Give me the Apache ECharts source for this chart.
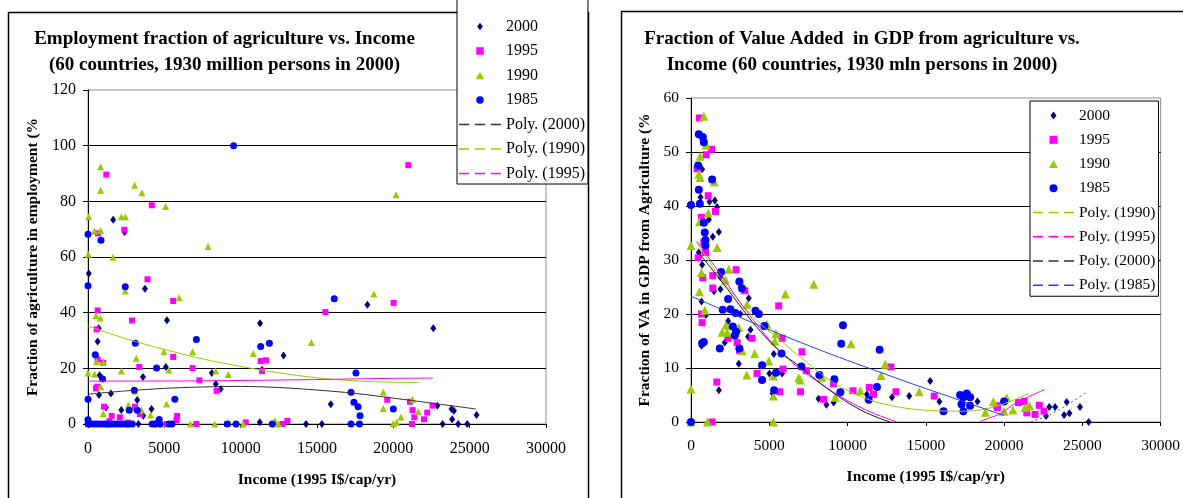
<!DOCTYPE html>
<html>
<head>
<meta charset="utf-8">
<script src="https://cdn.jsdelivr.net/npm/echarts@6/dist/echarts.min.js"></script>
<style>
  html, body { margin: 0; padding: 0; background: #fff; }
  #chart { width: 1183px; height: 498px; }
</style>
</head>
<body>
<div id="chart"></div>
<script>
// ---- Employment share of agriculture vs income (left panel), [income, %] ----
const emp2000 = [[1650,73.4],[2400,69.0],[50,54.1],[3730,48.6],[5170,37.3],[700,34.4],[632,29.6],[5100,20.5],[763,17.5],[916,16.4],[3600,16.9],[8110,18.3],[8370,14.4],[8690,12.6],[720,10.4],[1504,11.0],[3226,8.6],[1177,5.9],[2180,5.0],[4160,5.4],[3620,3.0],[5800,2.0],[11270,36.2],[12810,24.6],[11400,19.5],[15900,7.1],[11250,0.6],[14280,0],[15320,0],[18300,42.8],[22620,34.4],[22880,6.6],[23810,5.4],[23970,4.8],[23850,1.7],[25450,3.2],[23230,0],[24250,0],[24840,0],[1300,0],[2600,0],[3300,0],[4400,0]];
const emp1995 = [[20980,93.0],[1200,89.6],[4180,78.6],[2380,69.8],[650,68.5],[3900,52.0],[5580,44.2],[632,40.8],[2880,37.2],[567,34.0],[5580,24.1],[632,23.2],[1000,22.0],[3360,20.5],[6850,20.1],[7300,15.7],[8430,11.9],[523,12.8],[610,13.4],[1046,6.2],[3075,6.2],[3400,3.6],[1550,2.9],[2090,2.4],[5840,2.9],[5800,1.4],[5145,0],[7100,0],[15550,40.2],[11310,22.6],[11660,22.9],[11400,19.0],[9125,0],[10330,0.6],[12730,0],[13060,1.1],[20020,43.5],[19600,8.7],[21090,8.0],[21260,5.0],[21370,2.4],[22220,4.1],[22570,6.6],[22010,1.7],[21220,0],[1800,0],[1400,1.0],[2600,0.5]];
const emp1990 = [[20180,82.4],[826,92.4],[826,84.0],[3055,85.8],[3530,83.1],[5080,78.1],[50,74.5],[2180,74.5],[2450,74.5],[425,69.3],[826,69.5],[7860,63.8],[22,61.0],[1635,59.9],[2440,47.8],[5970,45.4],[523,39.0],[807,38.1],[4970,26.0],[6850,26.0],[567,22.5],[1000,22.2],[3160,23.6],[5300,19.4],[0,18.3],[436,18.0],[2180,19.0],[8370,19.0],[828,13.4],[3075,11.9],[5145,7.2],[2640,6.8],[3510,5.0],[1000,3.8],[4100,3.2],[4820,0],[6700,0],[8300,0],[18730,46.7],[14630,29.3],[10830,25.3],[9190,17.8],[10170,0],[12250,1.2],[12470,0],[19340,11.5],[19340,5.6],[21260,8.9],[21630,4.4],[20500,2.5],[20000,0.2],[20220,0.6]];
const emp1985 = [[9540,100],[0,68.2],[850,66.0],[0,49.7],[2440,49.3],[7100,30.4],[3100,29.0],[480,24.9],[4490,20.1],[960,16.2],[3030,12.1],[0,8.9],[5690,8.9],[2700,4.9],[3226,4.9],[4665,1.6],[0,1.5],[0,0],[200,0],[436,0],[650,0],[870,0],[1100,0],[1300,0],[1500,0],[1700,0],[1900,0],[2100,0],[2300,0],[2500,0],[2700,0],[2900,0],[4200,0],[4400,0],[4700,0],[5300,0],[5500,0],[16130,45.0],[11310,27.8],[11880,29.0],[17550,18.3],[17230,11.4],[17420,7.8],[17690,6.2],[17820,3.0],[9125,0],[9700,0],[12070,0],[17230,0],[17780,0],[20000,5.4]];

// polynomial trend lines of the left panel, sampled along the curve
const empFit2000 = [[0,10.7],[2500,11.9],[5000,12.8],[7500,13.3],[10000,13.5],[12500,13.1],[15000,12.2],[17500,11.0],[20000,9.3],[22500,7.5],[25400,5.4]];
const empFit1990 = [[0,35.2],[2500,30.6],[5000,26.8],[7500,23.4],[10000,20.7],[12500,18.4],[15000,16.6],[17500,15.5],[20000,15.0],[21700,14.9]];
const empFit1995 = [[0,15.4],[7000,15.5],[14000,15.9],[20000,16.4],[22600,16.5]];

// ---- Value added share of agriculture in GDP vs income (right panel) ----
const va2000 = [[710,46.8],[605,41.6],[1180,40.8],[1520,41.0],[1670,39.8],[1140,37.5],[1780,35.2],[1390,34.3],[500,31.4],[710,29.1],[1880,26.8],[1880,24.6],[1470,24.2],[3690,22.9],[670,22.3],[950,19.8],[3160,20.0],[2370,18.7],[3800,17.1],[3650,15.8],[2160,14.7],[670,14.1],[3050,10.8],[5290,12.6],[5010,9.0],[5820,9.0],[1780,5.9],[5220,5.3],[8150,4.3],[8650,3.2],[9110,3.6],[11240,5.1],[12840,4.6],[13940,4.8],[15280,7.6],[15870,3.8],[18300,3.8],[22680,1.1],[22890,2.8],[23260,2.8],[24000,3.7],[23830,1.3],[24170,1.6],[24850,2.8],[25400,0]];
const va1995 = [[540,56.3],[1310,50.5],[970,49.5],[390,46.9],[1100,41.9],[1560,39.0],[670,37.9],[820,33.3],[925,31.4],[460,30.4],[2880,28.2],[755,26.7],[1390,27.1],[1390,24.8],[3440,24.3],[5600,21.5],[670,20.0],[710,18.4],[2370,15.5],[2950,14.7],[3100,13.2],[3900,15.5],[5820,15.5],[4220,9.0],[5880,9.8],[1650,7.4],[5670,5.6],[1350,0],[7090,13.0],[6990,5.6],[7370,9.5],[8470,4.2],[9110,7.1],[10350,5.8],[11390,6.4],[11660,5.1],[12770,10.2],[13090,5.6],[15540,4.8],[19540,3.0],[19570,2.7],[20920,3.6],[21280,3.8],[21450,1.7],[21980,1.4],[22250,3.1],[22550,2.0]];
const va1990 = [[820,56.6],[970,51.3],[585,49.2],[500,45.9],[585,45.3],[1480,44.5],[1100,38.7],[540,37.1],[0,32.7],[1670,32.3],[2410,28.3],[670,27.7],[2200,26.3],[540,24.1],[3220,25.7],[3580,21.8],[6030,23.7],[880,20.7],[2240,17.9],[3050,17.5],[1990,16.6],[2310,16.6],[4860,18.1],[5430,16.4],[5350,15.0],[3270,13.2],[4070,12.7],[4970,11.3],[3560,8.7],[5260,8.5],[5270,4.8],[0,6.1],[0,0],[1050,0],[5270,0],[6880,8.2],[7840,25.5],[10220,14.5],[12410,10.7],[12140,8.6],[6980,7.8],[8370,8.3],[9220,4.6],[10810,5.8],[14580,5.6],[18810,1.8],[19320,3.8],[20170,4.5],[20000,2.0],[20560,2.2],[21340,2.7],[21620,3.0]];
const va1985 = [[500,53.3],[755,52.8],[820,51.8],[460,47.5],[1350,44.9],[500,43.0],[0,40.2],[565,40.4],[820,36.9],[880,35.1],[925,33.7],[925,32.7],[1920,27.8],[3090,26.0],[3260,24.7],[2370,22.8],[2030,20.8],[2520,20.9],[2840,20.2],[4120,20.6],[4330,20.0],[2670,17.7],[2880,16.7],[2800,16.0],[4690,17.8],[1840,13.6],[710,14.6],[820,14.8],[3090,13.6],[5780,12.7],[4540,10.5],[4540,7.8],[5430,9.1],[5310,5.9],[0,0],[7050,10.3],[9710,17.9],[9600,14.5],[12050,13.4],[8200,8.7],[9160,7.9],[9540,5.5],[11350,4.1],[11880,6.5],[16130,2.0],[17190,5.0],[17620,5.3],[17830,4.6],[17400,4.6],[17280,3.3],[17400,2.0],[17830,3.0],[20000,3.8]];

// trend lines of the right panel (parts below zero are not drawn)
const vaFit1990 = [[300,33.6],[1800,27.0],[3900,19.7],[6000,14.4],[7000,12.0],[9100,7.3],[11200,4.3],[13400,2.7],[15500,2.1],[17600,2.0],[19100,2.6],[20300,3.7],[21600,5.3]];
const vaFit1995a = [[400,33.4],[1800,27.7],[3900,19.2],[6000,12.2],[9100,5.5],[11200,2.2],[13150,0]];
const vaFit1995b = [[18400,0],[19100,0.8],[19750,1.5],[20800,3.6],[22600,6.0]];
const vaFit2000a = [[400,31.7],[1800,26.6],[2800,22.8],[3900,18.6],[5000,15.0],[6000,12.3],[7000,10.2],[8300,7.1],[9800,4.0],[11200,1.7],[12700,0]];
const vaFit2000b = [[21700,0],[22800,1.2],[24000,3.1],[25300,5.6]];
const vaFit1985 = [[0,23.3],[2000,20.8],[4000,18.3],[6000,15.9],[8000,13.6],[10000,11.4],[12000,9.3],[14000,7.2],[16000,5.2],[18000,3.2],[20000,1.2]];

const xTickStep = 5000;
const yearNames = ['2000', '1995', '1990', '1985'];

const SERIF = '"Liberation Serif", "Times New Roman", serif';
const C2000 = '#000080', C1995 = '#FF00FF', C1990 = '#99CC00', C1985 = '#0000FF';

// legend glyphs as paths so that they keep their proportions inside a wide legend slot
const ICON = {
  '2000': 'path://M0,-4L3,0L0,4L-3,0Z',
  '1995': 'path://M0,0L6,0L6,6L0,6Z',
  '1990': 'path://M0,-3.5L4,3.5L-4,3.5Z',
  '1985': 'path://M-3.5,0A3.5,3.5,0,1,0,3.5,0A3.5,3.5,0,1,0,-3.5,0Z',
  dash: 'path://M0,0L9,0L9,1.4L0,1.4ZM14,0L23,0L23,1.4L14,1.4ZM28,0L37,0L37,1.4L28,1.4Z'
};

const chart = echarts.init(document.getElementById('chart'), null, { renderer: 'canvas' });

function xAxisFor(gridIndex, fontSize, gap, margin) {
  return {
    gridIndex, type: 'value', min: 0, max: 30000, interval: xTickStep,
    name: 'Income (1995 I$/cap/yr)', nameLocation: 'middle', nameGap: gap,
    nameTextStyle: { fontFamily: SERIF, fontWeight: 'bold', fontSize: 15.5, color: '#000' },
    axisLine: { show: true, onZero: false, lineStyle: { color: '#000', width: 1 } },
    axisTick: { show: true, length: 4, lineStyle: { color: '#000' } },
    axisLabel: { margin, fontFamily: SERIF, fontSize, color: '#000', formatter: v => String(v) },
    splitLine: { show: false }
  };
}
function yAxisFor(gridIndex, max, step, name, fontSize, gap) {
  return {
    gridIndex, type: 'value', min: 0, max, interval: step,
    name, nameLocation: 'middle', nameGap: gap, nameRotate: 90,
    nameTextStyle: { fontFamily: SERIF, fontWeight: 'bold', fontSize: 15.5, color: '#000' },
    axisLine: { show: true, onZero: false, lineStyle: { color: '#000', width: 1 } },
    axisTick: { show: true, length: 5, lineStyle: { color: '#000' } },
    axisLabel: { margin: 12, fontFamily: SERIF, fontSize, color: '#000', formatter: v => String(v) },
    splitLine: { show: true, showMinLine: false, showMaxLine: false, lineStyle: { color: '#000', width: 1 } }
  };
}

function scatter(name, data, idx, symbol, size, color) {
  return {
    type: 'scatter', name, data, xAxisIndex: idx, yAxisIndex: idx,
    symbol, symbolSize: size, itemStyle: { color, opacity: 1 }, z: 3
  };
}
function fit(name, data, idx, color, dotted) {
  return {
    type: 'line', name, data, xAxisIndex: idx, yAxisIndex: idx,
    smooth: 0.35, symbol: 'none', showSymbol: false, clip: true,
    itemStyle: { color },
    lineStyle: { color, width: 1, type: dotted ? [2, 3] : 'solid' }, z: 4
  };
}

function legendItems(names) {
  return names.map(n => ({ name: n, icon: ICON[n] || ICON.dash }));
}

const legendBase = {
  orient: 'vertical', selectedMode: false, backgroundColor: '#fff',
  borderColor: '#000', borderWidth: 1, borderRadius: 0, z: 20, symbolKeepAspect: true
};

const option = {
  animation: false,
  backgroundColor: '#fff',
  grid: [
    { left: 88, top: 90, width: 458, height: 334, show: true, borderColor: '#8c8c8c', borderWidth: 1, containLabel: false },
    { left: 691, top: 98, width: 470, height: 324, show: true, borderColor: '#8c8c8c', borderWidth: 1, containLabel: false }
  ],
  xAxis: [xAxisFor(0, 16, 48, 17), xAxisFor(1, 15.5, 47, 16)],
  yAxis: [
    yAxisFor(0, 120, 20, 'Fraction of agriculture in employment (%', 16, 47),
    yAxisFor(1, 60, 10, 'Fraction of VA in GDP from Agriculture (%', 15.5, 38)
  ],
  legend: [
    Object.assign({}, legendBase, {
      left: 457, top: -1, padding: [19, 3, 2, 2],
      itemWidth: 42, itemHeight: 7.5, itemGap: 7.5,
      textStyle: { fontFamily: SERIF, fontSize: 16, color: '#000', lineHeight: 17 },
      data: legendItems(yearNames.concat(['Poly. (2000)', 'Poly. (1990)', 'Poly. (1995)']))
    }),
    Object.assign({}, legendBase, {
      left: 1030, top: 101, padding: [6, 3, 2.5, 3],
      itemWidth: 41, itemHeight: 8, itemGap: 7.25,
      textStyle: { fontFamily: SERIF, fontSize: 15.5, color: '#000', lineHeight: 17 },
      data: legendItems(yearNames.concat(['Poly. (1990)', 'Poly. (1995)', 'Poly. (2000)', 'Poly. (1985)']))
    })
  ],
  series: [
    scatter('2000', emp2000, 0, 'diamond', [6, 8], C2000),
    scatter('1995', emp1995, 0, 'rect', 6, C1995),
    scatter('1990', emp1990, 0, 'triangle', 7, C1990),
    scatter('1985', emp1985, 0, 'circle', 7, C1985),
    fit('Poly. (2000)', empFit2000, 0, '#333333'),
    fit('Poly. (1990)', empFit1990, 0, C1990),
    fit('Poly. (1995)', empFit1995, 0, C1995),

    scatter('2000', va2000, 1, 'diamond', [6, 8], C2000),
    scatter('1995', va1995, 1, 'rect', 7, C1995),
    scatter('1990', va1990, 1, 'triangle', 9, C1990),
    scatter('1985', va1985, 1, 'circle', 8, C1985),
    fit('Poly. (1990)', vaFit1990, 1, C1990),
    fit('Poly. (1995)', vaFit1995a, 1, C1995),
    fit('Poly. (1995)', vaFit1995b, 1, C1995),
    fit('Poly. (2000)', vaFit2000a, 1, '#1a1a1a'),
    fit('Poly. (2000)', vaFit2000b, 1, '#555555', true),
    fit('Poly. (1985)', vaFit1985, 1, '#2040ff')
  ],
  graphic: [
    // panel frames
    { type: 'rect', silent: true, z: -10, shape: { x: 8.5, y: 12.5, width: 580, height: 520 },
      style: { fill: '#fff', stroke: '#000', lineWidth: 1.5 } },
    { type: 'rect', silent: true, z: -10, shape: { x: 621.5, y: 11.5, width: 600, height: 520 },
      style: { fill: '#fff', stroke: '#000', lineWidth: 1.5 } },
    // panel titles
    { type: 'text', x: 224.5, y: 39, silent: true, z: 5,
      style: { text: 'Employment fraction of agriculture vs. Income', font: 'bold 19px ' + SERIF, fill: '#000',
               textAlign: 'center', textVerticalAlign: 'middle', align: 'center', verticalAlign: 'middle' } },
    { type: 'text', x: 224.5, y: 65, silent: true, z: 5,
      style: { text: '(60 countries, 1930 million persons in 2000)', font: 'bold 19px ' + SERIF, fill: '#000',
               textAlign: 'center', textVerticalAlign: 'middle', align: 'center', verticalAlign: 'middle' } },
    { type: 'text', x: 862, y: 39, silent: true, z: 5,
      style: { text: 'Fraction of Value Added  in GDP from agriculture vs.', font: 'bold 19px ' + SERIF, fill: '#000',
               textAlign: 'center', textVerticalAlign: 'middle', align: 'center', verticalAlign: 'middle' } },
    { type: 'text', x: 862, y: 65, silent: true, z: 5,
      style: { text: 'Income (60 countries, 1930 mln persons in 2000)', font: 'bold 19px ' + SERIF, fill: '#000',
               textAlign: 'center', textVerticalAlign: 'middle', align: 'center', verticalAlign: 'middle' } }
  ]
};

chart.setOption(option);
</script>
</body>
</html>
